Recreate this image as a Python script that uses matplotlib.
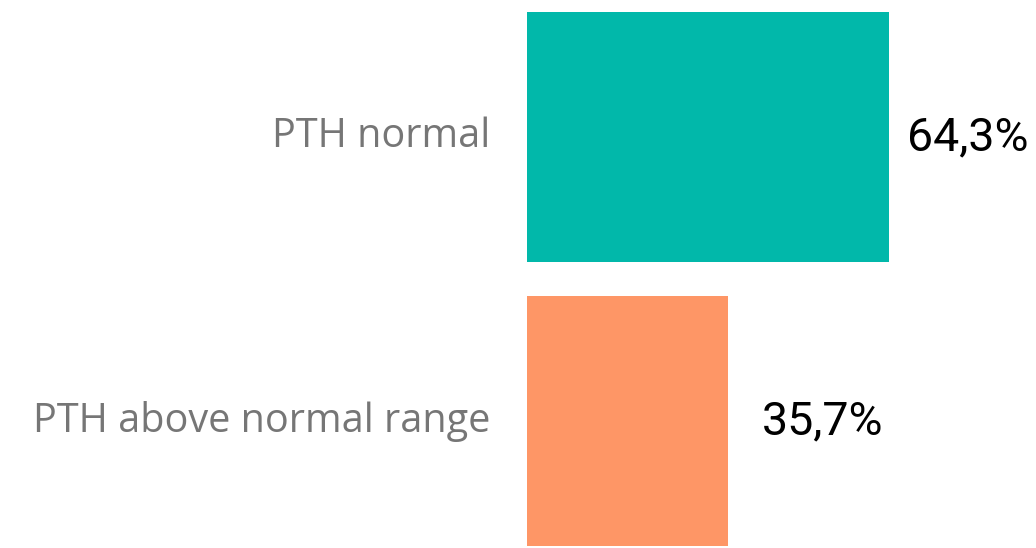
import matplotlib
matplotlib.use("Agg")
import matplotlib.pyplot as plt

# Share of patients by PTH status
categories = ["PTH normal", "PTH above normal range"]
shares = [64.3, 35.7]
value_labels = ["64,3%", "35,7%"]
colors = ["#01B8AA", "#FE9666"]

W, H, DPI = 1036, 548, 100
fig = plt.figure(figsize=(W / DPI, H / DPI), dpi=DPI)
fig.patch.set_facecolor("white")

# axes spans from the bar baseline to the right edge of the canvas
ax = fig.add_axes([527 / W, 2 / H, 1 - 527 / W, 534 / H])
ypos = list(range(len(categories)))
ax.barh(ypos, shares, height=0.88, color=colors)
ax.set_xlim(0, (W - 527) / 5.63)
ax.set_ylim(len(categories) - 1 + 0.44, -0.44)
ax.axis("off")

# category names, right-aligned left of the bars
for y, name in zip(ypos, categories):
    ax.annotate(name, xy=(0, y), xycoords="data", xytext=(-37, 0),
                textcoords="offset pixels", ha="right", va="center",
                fontsize=28.5, color="#767676", family="Open Sans")

# value labels at the end of each bar
offsets = [18, 34]
for y, v, lab, off in zip(ypos, shares, value_labels, offsets):
    ax.annotate(lab, xy=(v, y), xycoords="data", xytext=(off, 0),
                textcoords="offset pixels", ha="left", va="center",
                fontsize=33.5, color="#000000", family="Roboto")

fig.savefig("out.png", dpi=DPI, facecolor="white")
